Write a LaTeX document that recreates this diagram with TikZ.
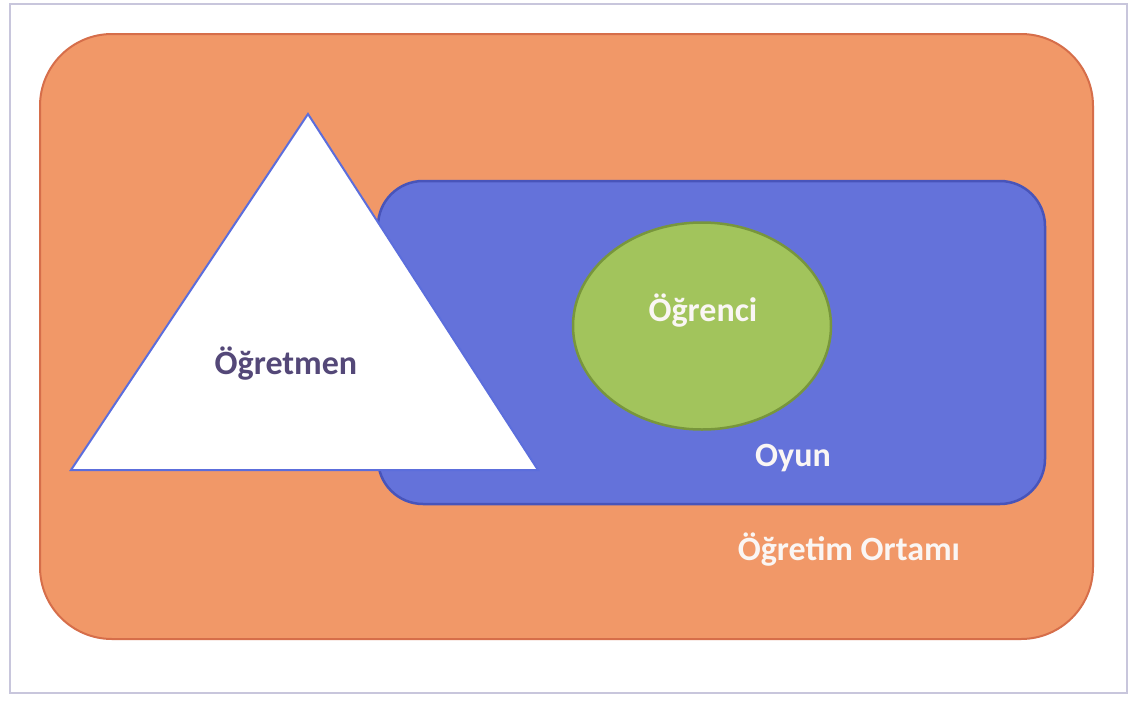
\documentclass[tikz,border=0pt]{standalone}
\usepackage{fontspec}
\setmainfont{Carlito}
\usetikzlibrary{shapes.geometric}
\definecolor{frameline}{RGB}{200,198,220}
\definecolor{orangefill}{RGB}{241,152,104}
\definecolor{orangeline}{RGB}{214,110,74}
\definecolor{bluefill}{RGB}{100,114,218}
\definecolor{blueline}{RGB}{72,84,186}
\definecolor{greenfill}{RGB}{162,196,92}
\definecolor{greenline}{RGB}{120,150,60}
\definecolor{triline}{RGB}{92,110,220}
\definecolor{darktext}{RGB}{84,72,120}
\definecolor{lighttext}{RGB}{250,246,244}
\tikzset{
  label text/.style={font=\bfseries\fontsize{34}{40}\selectfont, inner sep=0pt},
}
\begin{document}
\begin{tikzpicture}[x=1pt,y=-1pt]
  \useasboundingbox (0,0) rectangle (1133,702);
  \fill[white] (0,0) rectangle (1133,702);
  % outer frame
  \draw[frameline, line width=2pt] (10,4) rectangle (1127,693);
  % teaching environment
  \draw[fill=orangefill, draw=orangeline, line width=2pt, rounded corners=72]
    (40,34) rectangle (1093,639);
  % play area
  \draw[fill=bluefill, draw=blueline, line width=2.5pt, rounded corners=45]
    (378,181) rectangle (1045,504);
  % teacher triangle
  \coordinate (apex) at (308,114);
  \coordinate (bl) at (71,470);
  \coordinate (br) at (538,470);
  \draw[fill=white, draw=triline, line width=2pt, line join=miter] (apex) -- (bl) -- (br) -- cycle;
  % student ellipse
  \node[ellipse, draw=greenline, fill=greenfill, line width=2.5pt,
        minimum width=258pt, minimum height=207pt, inner sep=0pt] (ogrenci) at (702,326) {};
  % labels
  \node[label text, text=darktext] (ogretmen) at (286,364) {Öğretmen};
  \node[label text, text=lighttext] at (703,311) {Öğrenci};
  \node[label text, text=lighttext] (oyun) at (793,458) {Oyun};
  \node[label text, text=lighttext] (ortam) at (849,550) {Öğretim Ortamı};
\end{tikzpicture}
\end{document}
